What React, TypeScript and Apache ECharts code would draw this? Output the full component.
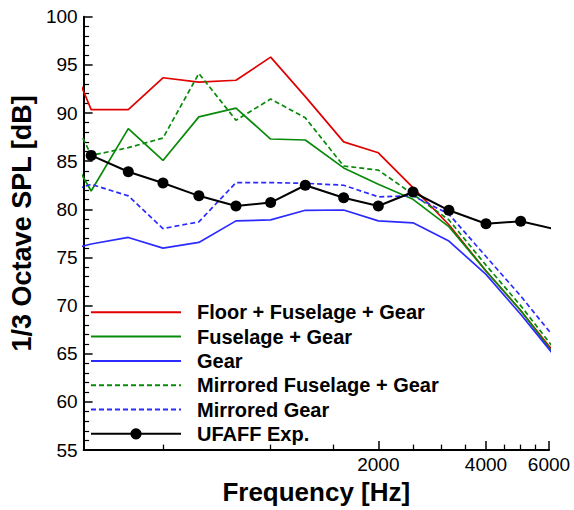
import React, { useEffect, useRef } from "react";
import * as echarts from "echarts";

// 1/3-octave band centre frequencies [Hz]
const FREQ = [250, 315, 400, 500, 630, 800, 1000, 1250, 1600, 2000, 2500, 3150, 4000, 5000, 6300];

const FLOOR_FUSELAGE_GEAR = [99.3, 90.35, 90.35, 93.66, 93.2, 93.4, 95.8, 91.7, 87.0, 85.87, 82.25, 78.4, 73.6, 69.5, 64.8];
const FUSELAGE_GEAR = [88.4, 81.9, 88.38, 85.07, 89.6, 90.5, 87.3, 87.2, 84.3, 82.6, 81.04, 78.2, 73.6, 69.5, 64.6];
const GEAR = [75.4, 76.4, 77.08, 75.97, 76.56, 78.8, 78.9, 79.9, 79.93, 78.8, 78.6, 76.7, 73.25, 69.1, 64.5];
const MIRRORED_FUSELAGE_GEAR = [93.4, 85.6, 86.4, 87.4, 94.1, 89.25, 91.45, 89.5, 84.5, 84.07, 81.56, 78.9, 74.2, 70.0, 65.2];
const MIRRORED_GEAR = [81.4, 82.6, 81.4, 78.0, 78.7, 82.77, 82.77, 82.7, 82.5, 81.3, 81.4, 79.5, 75.1, 71.0, 66.4];
const UFAFF_EXP = [null, 85.6, 83.9, 82.73, 81.4, 80.35, 80.7, 82.5, 81.2, 80.35, 81.8, 79.9, 78.5, 78.76, 77.9];

const X_LABELS = [2000, 4000, 6000];
const X_MINOR_TICKS = [500, 1000, 1500, 2500, 3000, 3500, 4500, 5000, 5500];

const FONT = "'Liberation Sans', Arial, Helvetica, sans-serif";

function pairs(vals: (number | null)[]) {
  const out: [number, number][] = [];
  vals.forEach((v, i) => {
    if (v !== null) out.push([FREQ[i], v]);
  });
  return out;
}

export default function App() {
  const ref = useRef<HTMLDivElement>(null);

  useEffect(() => {
    if (!ref.current) return;
    const chart = echarts.init(ref.current, undefined, { renderer: "svg" });

    const RED = "#e00000";
    const GREEN = "#0a8a0a";
    const BLUE = "#2b2bff";
    const DASH = [5, 3];

    const lineSeries = (name: string, vals: (number | null)[], color: string, dashed: boolean) => ({
      name,
      type: "line",
      xAxisIndex: 0,
      data: pairs(vals),
      symbol: "none",
      clip: true,
      lineStyle: { color, width: 1.7, type: dashed ? DASH : "solid" },
      itemStyle: { color },
    });

    const noSymbol = { opacity: 0 };

    chart.setOption({
      animation: false,
      textStyle: { fontFamily: FONT },
      grid: { left: 76, right: 25, top: 16.7, bottom: 58, containLabel: false },
      legend: {
        orient: "vertical",
        left: 90,
        top: 302.3,
        padding: 0,
        itemWidth: 90,
        itemHeight: 14,
        itemGap: 4.3,
        selectedMode: false,
        textStyle: {
          fontSize: 20,
          fontWeight: "bold",
          color: "#000",
          fontFamily: FONT,
          padding: [0, 0, 0, 11],
        },
        data: [
          { name: "Floor + Fuselage + Gear", itemStyle: noSymbol },
          { name: "Fuselage + Gear", itemStyle: noSymbol },
          { name: "Gear", itemStyle: noSymbol },
          { name: "Mirrored Fuselage + Gear", itemStyle: noSymbol },
          { name: "Mirrored Gear", itemStyle: noSymbol },
          { name: "UFAFF Exp." },
        ],
      },
      xAxis: [
        {
          type: "log",
          logBase: 10,
          min: 300,
          max: 6000,
          position: "bottom",
          name: "Frequency [Hz]",
          nameLocation: "middle",
          nameGap: 26,
          nameTextStyle: { fontSize: 26, fontWeight: "bold", color: "#000", fontFamily: FONT },
          axisLine: { show: true, lineStyle: { color: "#000", width: 2 } },
          axisTick: {
            show: true,
            inside: true,
            length: 9,
            customValues: X_LABELS,
            lineStyle: { color: "#000", width: 1.5 },
          },
          minorTick: { show: false },
          axisLabel: {
            customValues: X_LABELS,
            fontSize: 19,
            color: "#000",
            margin: 5,
            formatter: (v: number) => String(Math.round(v)),
          },
          splitLine: { show: false },
          minorSplitLine: { show: false },
        },
        {
          type: "log",
          logBase: 10,
          min: 300,
          max: 6000,
          position: "bottom",
          axisLine: { show: false },
          axisTick: {
            show: true,
            inside: true,
            length: 5.5,
            customValues: X_MINOR_TICKS,
            lineStyle: { color: "#000", width: 1.3 },
          },
          minorTick: { show: false },
          axisLabel: { show: false },
          splitLine: { show: false },
        },
      ],
      yAxis: {
        type: "value",
        min: 55,
        max: 100,
        interval: 5,
        name: "1/3 Octave SPL [dB]",
        nameLocation: "middle",
        nameGap: 40,
        nameRotate: 90,
        nameTextStyle: {
          fontSize: 27,
          fontWeight: "bold",
          color: "#000",
          fontFamily: FONT,
          padding: [0, 0, 0, 20],
        },
        axisLine: { show: true, lineStyle: { color: "#000", width: 2 } },
        axisTick: { show: true, inside: true, length: 9, lineStyle: { color: "#000", width: 1.5 } },
        minorTick: { show: true, splitNumber: 5, length: 5.5, lineStyle: { color: "#000", width: 1.2 } },
        axisLabel: { fontSize: 19, color: "#000", margin: 6 },
        splitLine: { show: false },
        minorSplitLine: { show: false },
      },
      series: [
        lineSeries("Floor + Fuselage + Gear", FLOOR_FUSELAGE_GEAR, RED, false),
        lineSeries("Fuselage + Gear", FUSELAGE_GEAR, GREEN, false),
        lineSeries("Gear", GEAR, BLUE, false),
        lineSeries("Mirrored Fuselage + Gear", MIRRORED_FUSELAGE_GEAR, GREEN, true),
        lineSeries("Mirrored Gear", MIRRORED_GEAR, BLUE, true),
        {
          name: "UFAFF Exp.",
          type: "line",
          xAxisIndex: 0,
          data: pairs(UFAFF_EXP),
          symbol: "circle",
          symbolSize: 11,
          showSymbol: true,
          clip: true,
          lineStyle: { color: "#000", width: 2 },
          itemStyle: { color: "#000" },
        },
      ],
    });

    return () => chart.dispose();
  }, []);

  return (
    <div
      ref={ref}
      style={{ position: "fixed", left: 0, top: 0, width: 574, height: 510, background: "#fff" }}
    />
  );
}
